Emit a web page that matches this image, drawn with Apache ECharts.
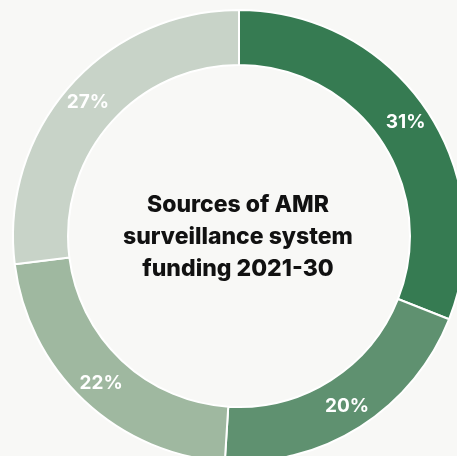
<!DOCTYPE html>
<html>
<head>
<meta charset="utf-8">
<script src="https://cdn.jsdelivr.net/npm/echarts@6/dist/echarts.min.js"></script>
<style>
  html, body { margin: 0; padding: 0; background: #f8f8f6; }
  #main { width: 457px; height: 456px; }
</style>
</head>
<body>
<div id="main"></div>
<script>
// shares of funding, clockwise from 12 o'clock
const sources = ['Source A', 'Source B', 'Source C', 'Source D'];
const shares = [31, 20, 22, 27];
const colors = ['#367b52', '#5f9170', '#9fb8a0', '#c8d3c8'];
const titleLines = ['Sources of AMR', 'surveillance system', 'funding 2021-30'];

const chart = echarts.init(document.getElementById('main'));
chart.setOption({
  backgroundColor: '#f8f8f6',
  animation: false,
  graphic: [{
    type: 'text',
    x: 238,
    y: 237,
    style: {
      text: titleLines.join('\n'),
      fill: '#111',
      font: '800 23px Inter',
      lineHeight: 32,
      align: 'center',
      verticalAlign: 'middle'
    }
  }],
  series: [{
    type: 'pie',
    center: [239, 236],
    radius: [171, 226],
    startAngle: 90,
    clockwise: true,
    silent: true,
    itemStyle: { borderColor: '#fff', borderWidth: 2 },
    label: {
      position: 'inside',
      formatter: '{c}%',
      color: '#fff',
      fontFamily: 'Inter',
      fontWeight: 'bold',
      fontSize: 19
    },
    labelLine: { show: false },
    data: sources.map((s, i) => ({ name: s, value: shares[i], itemStyle: { color: colors[i] } }))
  }]
});
</script>
</body>
</html>
